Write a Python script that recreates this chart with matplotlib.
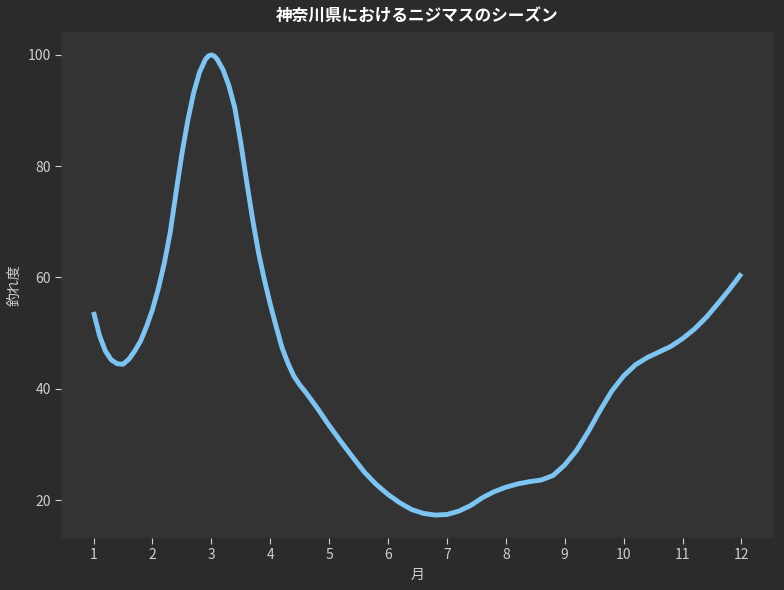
import matplotlib
matplotlib.use("Agg")
import matplotlib.pyplot as plt

plt.rcParams["font.family"] = ["Noto Sans CJK JP", "DejaVu Sans"]

# values (month, catch index)
months = [1.0, 1.1, 1.2, 1.3, 1.4, 1.5, 1.6, 1.7, 1.8, 1.9,
          2.0, 2.1, 2.2, 2.3, 2.4, 2.5, 2.6, 2.7, 2.8, 2.9, 2.95,
          3.0, 3.05, 3.1, 3.2, 3.3, 3.4, 3.5, 3.6, 3.7, 3.8, 3.9,
          4.0, 4.1, 4.2, 4.3, 4.4, 4.5, 4.6, 4.8, 5.0, 5.2,
          5.4, 5.6, 5.8, 6.0, 6.2, 6.4, 6.6, 6.8, 7.0, 7.2,
          7.4, 7.6, 7.8, 8.0, 8.2, 8.4, 8.6, 8.8, 9.0, 9.2,
          9.4, 9.6, 9.8, 10.0, 10.2, 10.4, 10.6, 10.8, 11.0, 11.2,
          11.4, 11.6, 11.8, 12.0]
catch = [53.8, 49.6, 46.8, 45.2, 44.5, 44.4, 45.3, 46.8, 48.6, 51.2,
         54.2, 58.0, 62.5, 68.0, 75.2, 82.2, 88.2, 93.2, 96.9, 99.2, 99.8,
         100.0, 99.8, 99.2, 97.3, 94.4, 90.4, 84.2, 77.2, 70.5, 64.5, 59.6,
         55.2, 51.2, 47.4, 44.6, 42.3, 40.7, 39.4, 36.5, 33.4, 30.5,
         27.7, 25.0, 22.8, 21.0, 19.5, 18.3, 17.6, 17.3, 17.4, 18.0,
         19.0, 20.4, 21.5, 22.3, 22.9, 23.3, 23.6, 24.4, 26.3, 28.9,
         32.3, 36.1, 39.6, 42.3, 44.3, 45.6, 46.6, 47.6, 49.0, 50.7,
         52.8, 55.3, 57.9, 60.7]
xticks = list(range(1, 13))
yticks = [20, 40, 60, 80, 100]

fig = plt.figure(figsize=(7.84, 5.90), dpi=100, facecolor="#2b2b2b")
ax = fig.add_axes([0.078, 0.088, 0.909, 0.858], facecolor="#333333")

ax.plot(months, catch, color="#7cc4f2", linewidth=3.5,
        solid_capstyle="butt", solid_joinstyle="round")

ax.set_xticks(xticks)
ax.set_yticks(yticks)
for s in ax.spines.values():
    s.set_visible(False)
ax.tick_params(colors="#d0d0d0", labelsize=10, length=4)
ax.set_title("神奈川県におけるニジマスのシーズン", color="white",
             fontsize=12, fontweight="bold", pad=8)
ax.set_xlabel("月", color="#d0d0d0", fontsize=10)
ax.set_ylabel("釣れ度", color="#d0d0d0", fontsize=10)

fig.savefig("out.png", dpi=100, facecolor=fig.get_facecolor())
